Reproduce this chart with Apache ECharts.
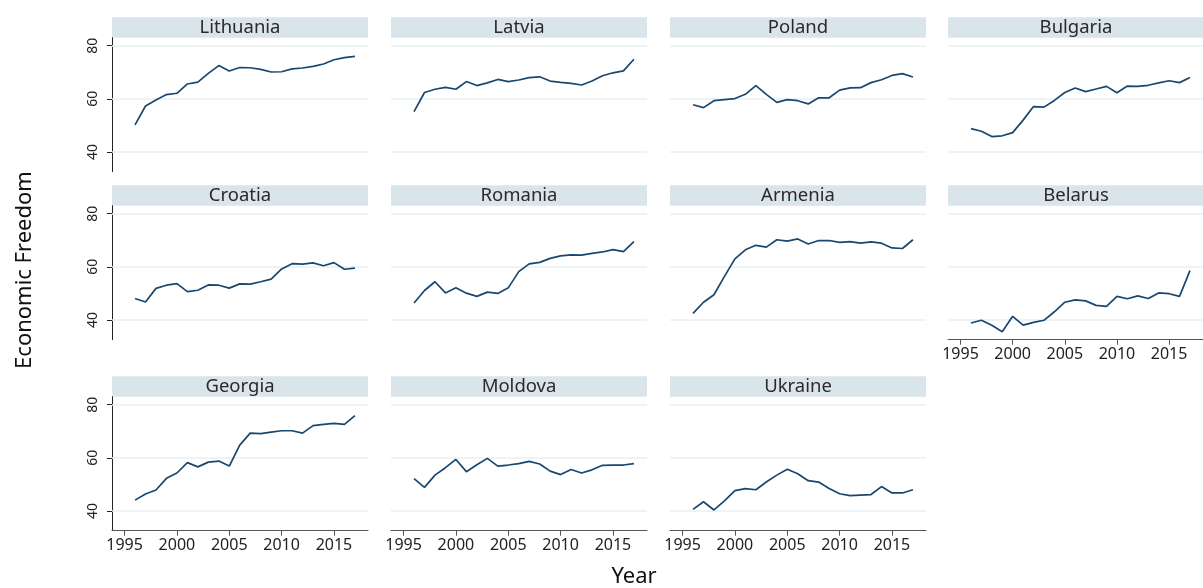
<!DOCTYPE html>
<html>
<head>
<meta charset="utf-8">
<script src="https://cdn.jsdelivr.net/npm/echarts@6/dist/echarts.min.js"></script>
<style>
html,body{margin:0;padding:0;background:#fff;}
#chart{width:1203px;height:588px;}
</style>
</head>
<body>
<div id="chart"></div>
<script>
// ---- data ----
const years = [1996,1997,1998,1999,2000,2001,2002,2003,2004,2005,2006,2007,2008,2009,2010,2011,2012,2013,2014,2015,2016,2017];
const countries = ['Lithuania','Latvia','Poland','Bulgaria','Croatia','Romania','Armenia','Belarus','Georgia','Moldova','Ukraine'];
const lithuania = [50.2,57.3,59.6,61.6,62.1,65.6,66.3,69.6,72.5,70.5,71.8,71.7,71.1,70.1,70.2,71.3,71.6,72.2,73.1,74.7,75.5,76.0];
const latvia    = [55.2,62.4,63.6,64.3,63.6,66.5,65.0,66.0,67.3,66.5,67.1,68.0,68.3,66.7,66.2,65.8,65.2,66.7,68.7,69.8,70.5,74.9];
const poland    = [57.8,56.7,59.3,59.7,60.1,61.7,65.0,61.7,58.7,59.7,59.3,58.1,60.4,60.4,63.3,64.1,64.2,66.1,67.2,68.8,69.5,68.2];
const bulgaria  = [48.8,47.8,45.8,46.1,47.3,52.0,57.1,56.9,59.4,62.4,64.1,62.7,63.7,64.7,62.3,64.8,64.7,65.1,66.0,66.8,66.1,68.0];
const croatia   = [48.1,46.8,51.9,53.1,53.7,50.7,51.2,53.2,53.1,52.0,53.6,53.5,54.4,55.4,59.2,61.2,61.0,61.5,60.4,61.6,59.1,59.5];
const romania   = [46.4,51.1,54.4,50.2,52.1,50.1,48.9,50.5,50.0,52.1,58.2,61.1,61.7,63.2,64.1,64.5,64.4,65.1,65.6,66.5,65.7,69.5];
const armenia   = [42.5,46.7,49.5,56.4,63.0,66.4,68.1,67.4,70.2,69.7,70.5,68.6,69.9,69.9,69.2,69.5,68.9,69.4,68.9,67.1,66.9,70.2];
const belarus   = [38.9,39.9,38.0,35.6,41.4,38.1,39.1,39.9,43.1,46.7,47.6,47.2,45.5,45.1,48.9,48.0,49.1,48.1,50.2,49.9,48.9,58.6];
const georgia   = [44.1,46.4,47.9,52.3,54.3,58.2,56.6,58.4,58.8,56.9,64.8,69.3,69.1,69.7,70.2,70.2,69.3,72.1,72.6,73.0,72.6,75.9];
const moldova   = [52.2,48.9,53.5,56.3,59.4,54.8,57.4,59.8,56.9,57.3,57.8,58.7,57.7,55.0,53.7,55.6,54.3,55.5,57.2,57.3,57.3,57.8];
const ukraine   = [40.6,43.5,40.4,43.8,47.7,48.4,48.0,50.9,53.5,55.7,54.0,51.4,50.9,48.5,46.5,45.8,46.0,46.2,49.2,46.8,46.8,48.0];
const seriesValues = [lithuania,latvia,poland,bulgaria,croatia,romania,armenia,belarus,georgia,moldova,ukraine];
const xTickLabels = [1995,2000,2005,2010,2015];
const yTickLabels = [40,60,80];
const yTitle = 'Economic Freedom';
const xTitle = 'Year';

// ---- layout ----
const colLeft = [112, 391, 670, 948];
const rowTop = [37.7, 205.7, 396.7];
const panelW = 256, panelH = 134, headerH = 20.4;
const panelPos = [[0,0],[0,1],[0,2],[0,3],[1,0],[1,1],[1,2],[1,3],[2,0],[2,1],[2,2]];
const showX = [false,false,false,false,false,false,false,true,true,true,true];

const navy = '#1a476f';
const grids = [], xAxes = [], yAxes = [], series = [], graphics = [];

countries.forEach((name, i) => {
  const [r, c] = panelPos[i];
  const left = colLeft[c], top = rowTop[r];
  grids.push({left: left, top: top, width: panelW, height: panelH, containLabel: false});
  xAxes.push({
    type: 'value', gridIndex: i, min: 1993.8, max: 2018.25,
    axisLine: {show: showX[i], lineStyle: {color: '#555', width: 1}},
    axisTick: {show: showX[i], length: 5, lineStyle: {color: '#555'}, customValues: xTickLabels},
    axisLabel: {show: showX[i], customValues: xTickLabels, fontSize: 16, color: '#222', margin: 7,
                fontFamily: 'Noto Sans', formatter: v => String(v)},
    splitLine: {show: false}
  });
  const showY = c === 0;
  yAxes.push({
    type: 'value', gridIndex: i, min: 32.6, max: 83,
    axisLine: {show: showY, lineStyle: {color: '#222', width: 1}},
    axisTick: {show: showY, length: 5, lineStyle: {color: '#222'}, customValues: yTickLabels},
    axisLabel: {show: showY, customValues: yTickLabels, fontSize: 14, color: '#222', rotate: 90, margin: 12,
                fontFamily: 'Noto Sans', formatter: v => String(v)},
    splitLine: {show: false}
  });
  // gridlines (drawn beneath the data line)
  series.push({
    type: 'line', xAxisIndex: i, yAxisIndex: i, data: [], z: 1, animation: false,
    markLine: {
      silent: true, symbol: 'none', animation: false,
      label: {show: false},
      lineStyle: {color: '#e9eff3', width: 1.5, type: 'solid'},
      data: yTickLabels.map(v => ({yAxis: v}))
    }
  });
  series.push({
    type: 'line', xAxisIndex: i, yAxisIndex: i, showSymbol: false, symbol: 'none', z: 5,
    lineStyle: {color: navy, width: 1.7}, animation: false,
    data: years.map((y, k) => [y, seriesValues[i][k]])
  });
  graphics.push({
    type: 'rect', shape: {x: left, y: top - headerH, width: panelW, height: headerH},
    style: {fill: '#d9e4eb'}, silent: true
  });
  graphics.push({
    type: 'text', x: left + panelW / 2, y: top - headerH / 2 + 0.5,
    style: {text: name, fontSize: 18.5, fill: '#2a2a2a', fontFamily: 'Noto Sans', align: 'center', verticalAlign: 'middle'},
    silent: true
  });
});

graphics.push({
  type: 'text', x: 25, y: 270, rotation: Math.PI / 2,
  style: {text: yTitle, fontSize: 22, fill: '#111', fontFamily: 'Noto Sans', align: 'center', verticalAlign: 'middle'}
});
graphics.push({
  type: 'text', x: 634, y: 577,
  style: {text: xTitle, fontSize: 22, fill: '#111', fontFamily: 'Noto Sans', align: 'center', verticalAlign: 'middle'}
});

const chart = echarts.init(document.getElementById('chart'), null, {renderer: 'canvas'});
chart.setOption({
  animation: false,
  backgroundColor: '#fff',
  grid: grids, xAxis: xAxes, yAxis: yAxes, series: series,
  graphic: graphics
});
</script>
</body>
</html>
